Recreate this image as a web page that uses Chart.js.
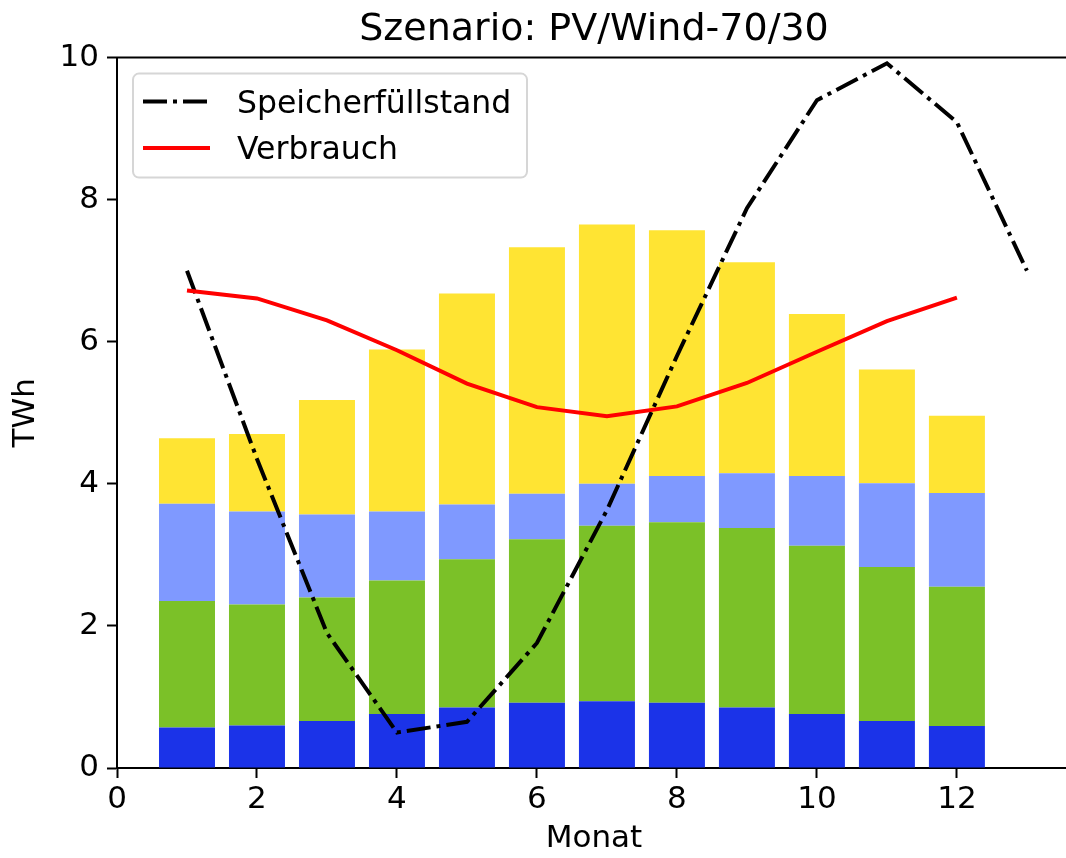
<!DOCTYPE html>
<html lang="de">
<head>
<meta charset="UTF-8">
<title>Szenario: PV/Wind-70/30</title>
<style>
  html, body { margin: 0; padding: 0; background: #fff; overflow: hidden; }
  #wrap { width: 1066px; height: 858px; overflow: hidden; }
</style>
</head>
<body>
<div id="wrap"><canvas id="szenarioChart" width="1071" height="858"></canvas></div>
<script src="https://cdn.jsdelivr.net/npm/chart.js"></script>
<script>
    // Monate (x) und Werte in TWh
    const monate = [1, 2, 3, 4, 5, 6, 7, 8, 9, 10, 11, 12];
    const speicherMonate = [1, 2, 3, 4, 5, 6, 7, 8, 9, 10, 11, 12, 13];
    const xTicks = [0, 2, 4, 6, 8, 10, 12];
    const yTicks = [0, 2, 4, 6, 8, 10];

    // gestapelte Balken, von unten nach oben
    const dunkelblau = [0.57, 0.60, 0.66, 0.76, 0.85, 0.92, 0.94, 0.92, 0.85, 0.76, 0.66, 0.59];
    const gruen = [1.78, 1.70, 1.74, 1.88, 2.09, 2.30, 2.47, 2.54, 2.53, 2.37, 2.17, 1.96];
    const hellblau = [1.37, 1.31, 1.17, 0.97, 0.77, 0.64, 0.59, 0.65, 0.77, 0.98, 1.18, 1.32];
    const gelb = [0.92, 1.09, 1.61, 2.28, 2.97, 3.47, 3.65, 3.46, 2.97, 2.28, 1.60, 1.09];

    const speicher = [7.0, 4.35, 1.90, 0.50, 0.65, 1.76, 3.63, 5.80, 7.88, 9.40, 9.92, 9.09, 7.0];
    const verbrauch = [6.72, 6.61, 6.30, 5.88, 5.41, 5.08, 4.95, 5.09, 5.42, 5.86, 6.29, 6.62];

    const toPoints = (xs, ys) => xs.map((x, i) => ({ x: x, y: ys[i] }));

    Chart.defaults.font.family = "'DejaVu Sans', sans-serif";
    Chart.defaults.color = '#000';

    // Legende im Diagramm, wie bei matplotlib
    const legendBox = {
        id: 'legendBox',
        afterDraw(chart) {
            const ctx = chart.ctx;
            const area = chart.chartArea;
            const x = area.left + 16, y = area.top + 16, w = 394, h = 104;
            ctx.save();
            ctx.beginPath();
            ctx.roundRect(x, y, w, h, 6);
            ctx.fillStyle = 'rgba(255,255,255,0.8)';
            ctx.fill();
            ctx.strokeStyle = '#d6d6d6';
            ctx.lineWidth = 2;
            ctx.stroke();
            const items = chart.data.datasets.filter(d => d.type === 'line');
            items.forEach((d, i) => {
                const cy = y + 28 + i * 46.5;
                ctx.beginPath();
                ctx.setLineDash(d.borderDash || []);
                ctx.lineCap = 'butt';
                ctx.strokeStyle = d.borderColor;
                ctx.lineWidth = d.borderWidth;
                ctx.moveTo(x + 10, cy);
                ctx.lineTo(x + 77, cy);
                ctx.stroke();
                ctx.setLineDash([]);
                ctx.fillStyle = '#000';
                ctx.font = "31.5px 'DejaVu Sans'";
                ctx.textBaseline = 'alphabetic';
                ctx.textAlign = 'left';
                ctx.fillText(d.label, x + 104, cy + 11);
            });
            ctx.restore();
        }
    };

    // obere Achsenlinie
    const topSpine = {
        id: 'topSpine',
        afterDraw(chart) {
            const ctx = chart.ctx;
            const a = chart.chartArea;
            ctx.save();
            ctx.strokeStyle = '#000';
            ctx.lineWidth = 2;
            ctx.beginPath();
            ctx.moveTo(a.left - 1, a.top);
            ctx.lineTo(a.right, a.top);
            ctx.stroke();
            ctx.restore();
        }
    };

    const ctx = document.getElementById('szenarioChart').getContext('2d');
    const chart = new Chart(ctx, {
        type: 'bar',
        data: {
            datasets: [
                {
                    type: 'line', label: 'Speicherfüllstand', order: 1,
                    data: toPoints(speicherMonate, speicher),
                    borderColor: '#000', borderWidth: 4, borderDash: [24, 6, 4, 6],
                    borderCapStyle: 'butt', pointRadius: 0, fill: false, tension: 0, stack: 's1'
                },
                {
                    type: 'line', label: 'Verbrauch', order: 0,
                    data: toPoints(monate, verbrauch),
                    borderColor: '#ff0000', borderWidth: 4,
                    pointRadius: 0, fill: false, tension: 0, stack: 's2'
                },
                { label: 'Schicht 1', order: 2, data: toPoints(monate, dunkelblau), backgroundColor: '#1b33e8' },
                { label: 'Schicht 2', order: 2, data: toPoints(monate, gruen), backgroundColor: '#7bc128' },
                { label: 'Schicht 3', order: 2, data: toPoints(monate, hellblau), backgroundColor: '#7f99ff' },
                { label: 'Schicht 4', order: 2, data: toPoints(monate, gelb), backgroundColor: '#ffe433' }
            ]
        },
        options: {
            responsive: false,
            animation: false,
            devicePixelRatio: 1,
            datasets: {
                bar: { categoryPercentage: 0.8, barPercentage: 1.0, borderWidth: 0, stack: 'bars' }
            },
            layout: { padding: 0 },
            plugins: {
                legend: { display: false },
                tooltip: { enabled: false },
                title: {
                    display: true,
                    fullSize: false,
                    text: 'Szenario: PV/Wind-70/30',
                    font: { size: 38, weight: 'normal' },
                    color: '#000',
                    padding: { top: 7, bottom: 5 }
                }
            },
            scales: {
                x: {
                    type: 'linear',
                    stacked: true,
                    offset: false,
                    min: 0,
                    max: 13.63,
                    afterFit: (scale) => { scale.height = 90; },
                    afterBuildTicks: (scale) => { scale.ticks = xTicks.map(v => ({ value: v })); },
                    ticks: { font: { size: 31 }, color: '#000', padding: 3, maxRotation: 0, autoSkip: false },
                    grid: { offset: false, drawOnChartArea: false, drawTicks: true, tickLength: 10, tickWidth: 2, tickColor: '#000' },
                    border: { display: true, color: '#000', width: 2 },
                    title: { display: true, text: 'Monat', font: { size: 31 }, color: '#000', padding: { top: 0, bottom: 0 } }
                },
                y: {
                    stacked: true,
                    min: 0,
                    max: 10,
                    afterFit: (scale) => { scale.width = 117; },
                    afterBuildTicks: (scale) => { scale.ticks = yTicks.map(v => ({ value: v })); },
                    ticks: { font: { size: 31 }, color: '#000', padding: 8 },
                    grid: { drawOnChartArea: false, drawTicks: true, tickLength: 10, tickWidth: 2, tickColor: '#000' },
                    border: { display: true, color: '#000', width: 2 },
                    title: { display: true, text: 'TWh', font: { size: 31 }, color: '#000', padding: { top: 7, bottom: 0 } }
                }
            }
        },
        plugins: [topSpine, legendBox]
    });
</script>
</body>
</html>
